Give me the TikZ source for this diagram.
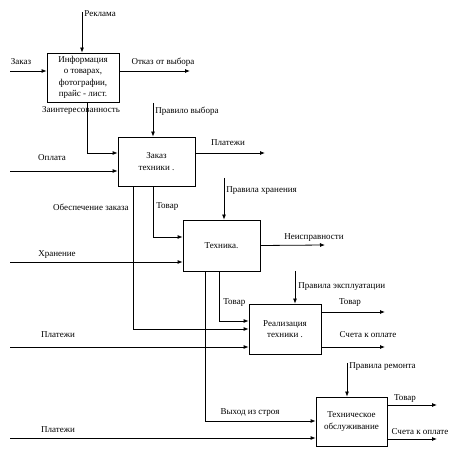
\documentclass[tikz,border=0pt]{standalone}
\usepackage{fontspec}
\setmainfont{Liberation Serif}
\usetikzlibrary{arrows.meta}
\usetikzlibrary{calc}
\usetikzlibrary{positioning}

\begin{document}
\begin{tikzpicture}[
    x=1pt, y=-1pt,
    >={Latex[length=5pt,width=4pt]},
    line width=0.8pt,
    font=\fontsize{9}{11.5}\selectfont,
    func/.style={draw, align=center, inner sep=1pt},
    lbl/.style={inner sep=0pt}]

    \useasboundingbox (0, 0) rectangle (464, 457);

    % functions
    \node [func, minimum width=72pt, minimum height=49pt] (info) at (83, 77.5)
    {Информация\\о товарах,\\фотографии,\\прайс - лист.};
    \node [func, minimum width=77pt, minimum height=49pt] (order) at (156.5, 161.5)
    {Заказ\\техники .};
    \node [func, minimum width=77pt, minimum height=51pt] (tech) at (221.5, 245.5)
    {Техника.};
    \node [func, minimum width=72pt, minimum height=50pt] (sale) at (285, 329)
    {Реализация\\техники .};
    \node [func, minimum width=71pt, minimum height=49pt] (serv) at (351.5, 421.5)
    {Техническое\\обслуживание};

    % free ends
    \coordinate (adin) at (82, 12);
    \coordinate (ordin) at (10, 71);
    \coordinate (refout) at (190, 71);
    \coordinate (rulein) at (153, 103);
    \coordinate (payin) at (10, 171);
    \coordinate (payout) at (265, 153);
    \coordinate (storrule) at (224, 178);
    \coordinate (storin) at (10, 262);
    \coordinate (faultout) at (325, 245);
    \coordinate (userule) at (295, 271);
    \coordinate (payin2) at (10, 347);
    \coordinate (goodsout) at (385, 312);
    \coordinate (billout) at (385, 347);
    \coordinate (reprule) at (347, 363);
    \coordinate (payin3) at (10, 438);
    \coordinate (goodsout2) at (437, 405);
    \coordinate (billout2) at (437, 439);

    % info
    \draw [->] (adin) -- ([xshift=-1pt]info.north);
    \node [lbl, anchor=west] (ladin) at (84, 14) {Реклама};
    \draw [->] (ordin) -- ([yshift=6.5pt]info.west);
    \node [lbl] (lordin) at (21, 62) {Заказ};
    \draw [->] ([yshift=6.5pt]info.east) -- (refout);
    \node [lbl] (lrefout) at (163, 62) {Отказ от выбора};

    % order
    \draw [->] ([xshift=4pt]info.south) |- ([yshift=8.5pt]order.west);
    \node [lbl] (linter) at (81, 110) {Заинтересованность};
    \draw [->] (rulein) -- ([xshift=-3.5pt]order.north);
    \node [lbl, anchor=west] (lrulein) at (155, 111) {Правило выбора};
    \draw [->] (payin) -- ([yshift=-9.5pt]order.west);
    \node [lbl] (lpayin) at (52, 158) {Оплата};
    \draw [->] ([yshift=8.5pt]order.east) -- (payout);
    \node [lbl] (lpayout) at (228, 143) {Платежи};

    % tech
    \draw [->] (storrule) -- ([xshift=2.5pt]tech.north);
    \node [lbl, anchor=west] (lstorrule) at (226, 191) {Правила хранения};
    \draw [->] ([xshift=-3.5pt]order.south) |- ([yshift=8.5pt]tech.west);
    \node [lbl, anchor=west] (lgoods) at (156, 207) {Товар};
    \draw [->] (storin) -- ([yshift=-16.5pt]tech.west);
    \node [lbl] (lstorin) at (57, 255) {Хранение};
    \draw [->] (tech.east) -- (faultout);
    \node [lbl] (lfault) at (314, 238) {Неисправности};

    % sale
    \draw [->] ([xshift=-23.5pt]order.south) |- (sale.west);
    \node [lbl, anchor=east] (lsupply) at (129, 207) {Обеспечение заказа};
    \draw [->] ([xshift=-2.5pt]tech.south) |- ([yshift=8pt]sale.west);
    \node [lbl, anchor=west] (lgoods2) at (223, 303) {Товар};
    \draw [->] (userule) -- ([xshift=10pt]sale.north);
    \node [lbl, anchor=west] (luserule) at (298, 287) {Правила эксплуатации};
    \draw [->] (payin2) -- ([yshift=-18pt]sale.west);
    \node [lbl] (lpayin2) at (58, 335) {Платежи};
    \draw [->] ([yshift=17pt]sale.east) -- (goodsout);
    \node [lbl] (lgoodsout) at (350, 303) {Товар};
    \draw [->] ([yshift=-18pt]sale.east) -- (billout);
    \node [lbl] (lbillout) at (368, 335) {Счета к оплате};

    % serv
    \draw [->] ([xshift=-16.5pt]tech.south) |- ([yshift=0.5pt]serv.west);
    \node [lbl] (lbroken) at (250, 413) {Выход из строя};
    \draw [->] (reprule) -- ([xshift=-4.5pt]serv.north);
    \node [lbl, anchor=west] (lreprule) at (349, 367) {Правила ремонта};
    \draw [->] (payin3) -- ([yshift=-16.5pt]serv.west);
    \node [lbl] (lpayin3) at (58, 430) {Платежи};
    \draw [->] ([yshift=16.5pt]serv.east) -- (goodsout2);
    \node [lbl] (lgoodsout2) at (405, 399) {Товар};
    \draw [->] ([yshift=-17.5pt]serv.east) -- (billout2);
    \node [lbl] (lbillout2) at (420, 432) {Счета к оплате};

\end{tikzpicture}
\end{document}
